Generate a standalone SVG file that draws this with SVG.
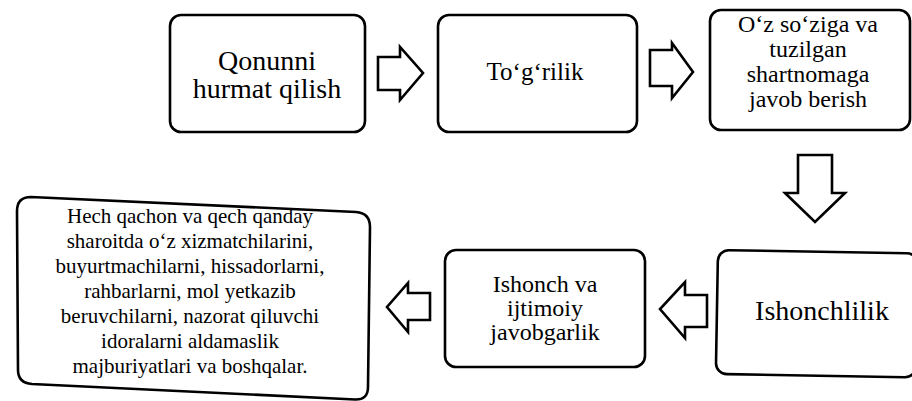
<svg xmlns="http://www.w3.org/2000/svg" width="912" height="401" viewBox="0 0 912 401" font-family="Liberation Serif, Times New Roman, DejaVu Serif, serif">
<style>
.box{fill:#fff;stroke:#000;stroke-width:2.6}
.arr{fill:#fff;stroke:#000;stroke-width:2.6;stroke-linejoin:miter}
text{fill:#000;text-anchor:middle}
.t28{font-size:28px}
.t25{font-size:25px}
.t24{font-size:24px}
.t22{font-size:21px}
</style>
<rect width="912" height="401" fill="#fff"/>
<g id="n1">
<rect class="box" x="170" y="15" width="195" height="117" rx="11"/>
<text class="t28" x="267" y="70">Qonunni</text>
<text class="t28" x="267" y="98">hurmat qilish</text>
</g>
<g id="n2">
<rect class="box" x="438" y="15" width="199" height="117" rx="11"/>
<text class="t25" x="535" y="80">To‘g‘rilik</text>
</g>
<g id="n3">
<rect class="box" x="710" y="10" width="200" height="120" rx="11"/>
<text class="t24" x="808" y="32">O‘z so‘ziga va</text>
<text class="t24" x="808" y="57">tuzilgan</text>
<text class="t24" x="808" y="82">shartnomaga</text>
<text class="t24" x="808" y="107">javob berish</text>
</g>
<g id="n4">
<rect class="box" x="718" y="250" width="200" height="124" rx="11" transform="rotate(1 718 250)"/>
<text class="t28" x="822" y="320">Ishonchlilik</text>
</g>
<g id="n5">
<rect class="box" x="445" y="250" width="200" height="117" rx="11"/>
<text class="t24" x="545" y="292">Ishonch va</text>
<text class="t24" x="545" y="316">ijtimoiy</text>
<text class="t24" x="545" y="340">javobgarlik</text>
</g>
<g id="n6">
<path class="box" d="M31,197 L356,212 Q370,213 370,227 L368,387 Q368,400 355,399.5 L32,384 Q18,383 18,370 L17,211 Q17,197 31,197 Z"/>
<text class="t22" x="190" y="223">Hech qachon va qech qanday</text>
<text class="t22" x="190" y="248">sharoitda o‘z xizmatchilarini,</text>
<text class="t22" x="190" y="273">buyurtmachilarni, hissadorlarni,</text>
<text class="t22" x="190" y="298">rahbarlarni, mol yetkazib</text>
<text class="t22" x="190" y="323">beruvchilarni, nazorat qiluvchi</text>
<text class="t22" x="190" y="348">idoralarni aldamaslik</text>
<text class="t22" x="190" y="373">majburiyatlari va boshqalar.</text>
</g>
<g id="connectors">
<polygon class="arr" points="378,57 400,57 400,47 423,73 400,100 400,90 378,90"/>
<polygon class="arr" points="650,50 672,50 672,43 693,72 672,98 672,86 650,86"/>
<polygon class="arr" points="798,155 832,155 832,193 845,193 815,222 785,193 798,193"/>
<polygon class="arr" points="707,295 685,295 685,282 660,309 685,338 685,327 707,327"/>
<polygon class="arr" points="430,293 408,293 408,283 387,307 408,332 408,320 430,320"/>
</g>
</svg>
